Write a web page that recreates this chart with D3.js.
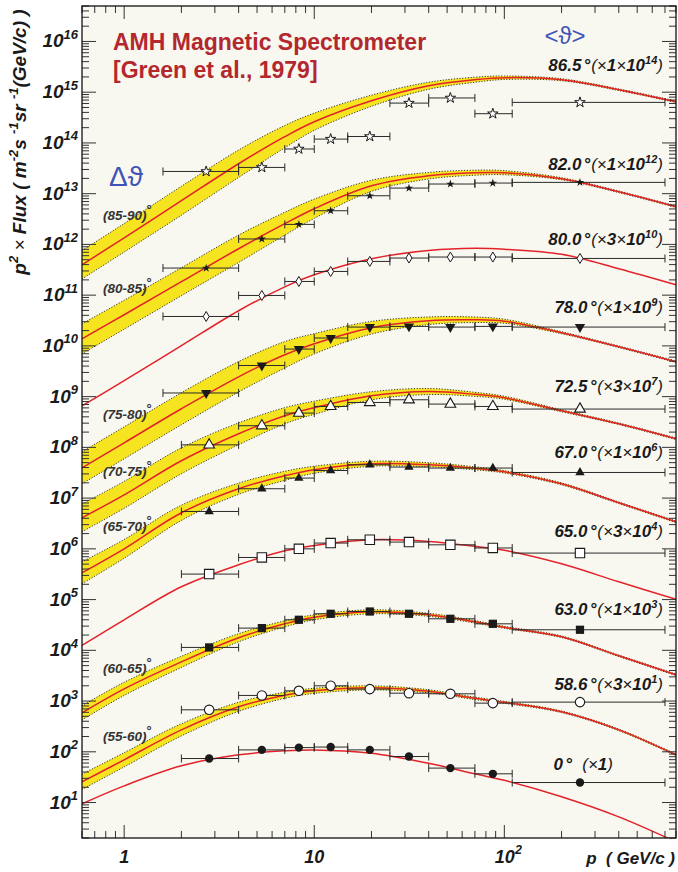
<!DOCTYPE html>
<html><head><meta charset="utf-8">
<script src="https://cdn.jsdelivr.net/npm/d3@7"></script>
<style>
html,body{margin:0;padding:0;background:#fff;}
svg{display:block;}
text{font-family:"Liberation Sans",Arial,Helvetica,sans-serif;}
</style></head><body>
<svg id="chart" width="678" height="872"></svg>
<script>
// ---------------- DATA ----------------
// momentum grid (GeV/c) on which the fitted curves are read
const fitP = [0.6, 1, 2, 4, 7, 10, 20, 40, 70, 100, 200, 400, 800];
// measurement bins (GeV/c)
const binLow  = [2, 4, 7, 10, 15, 25, 40, 70, 110];
const binHigh = [4, 7, 10, 15, 25, 40, 70, 110, 700];
const binMean = [2.8, 5.3, 8.3, 12.2, 19.6, 31.5, 52, 87, 250];
const wideFirstBinLow = 1.6, wideFirstBinMean = 2.7;

// zenith angle labels, scale factors, angle ranges
const angles      = ["86.5", "82.0", "80.0", "78.0", "72.5", "67.0", "65.0", "63.0", "58.6", "0"];
const factorMant  = ["1", "1", "3", "1", "3", "1", "3", "1", "3", null];
const factorExp   = ["14", "12", "10", "9", "7", "6", "4", "3", "1", null];
const rangeLabels = ["(85-90)", "(80-85)", null, "(75-80)", "(70-75)", "(65-70)", null, "(60-65)", "(55-60)", null];

// measured p^2*Flux (already multiplied by the scale factor)
const pts865 = [2.74e13, 3.29e13, 7.6e13, 1.19e14, 1.34e14, 6.1e14, 7.7e14, 3.77e14, 6.3e14];
const pts820 = [3.42e11, 1.28e12, 2.48e12, 4.61e12, 9.1e12, 1.29e13, 1.55e13, 1.62e13, 1.67e13];
const pts800 = [3.80e10, 9.86e10, 1.86e11, 2.93e11, 4.62e11, 5.39e11, 5.64e11, 5.64e11, 5.29e11];
const pts780 = [1.18e9, 4.11e9, 8.66e9, 1.43e10, 2.35e10, 2.42e10, 2.35e10, 2.42e10, 2.35e10];
const pts725 = [1.12e8, 2.67e8, 4.74e8, 6.40e8, 7.67e8, 8.67e8, 7.13e8, 6.40e8, 5.69e8];
const pts670 = [5.45e6, 1.53e7, 2.48e7, 3.50e7, 4.54e7, 4.09e7, 3.91e7, 3.91e7, 3.20e7];
const pts650 = [3.18e5, 6.76e5, 1.00e6, 1.30e6, 1.51e6, 1.36e6, 1.20e6, 1.04e6, 8.25e5];
const pts630 = [1.14e4, 2.74e4, 4.00e4, 5.25e4, 5.82e4, 5.25e4, 4.18e4, 3.33e4, 2.54e4];
const pts586 = [672, 1.29e3, 1.59e3, 2.00e3, 1.72e3, 1.43e3, 1.39e3, 910, 953];
const pts000 = [73.7, 109, 121, 124, 109, 80.7, 47.7, 36.8, 24.8];

// calculated curves on fitP grid
const fit865 = [3.97e11, 1.35e12, 7.26e12, 3.89e13, 1.33e14, 2.62e14, 6.79e14, 1.34e15, 1.76e15, 1.93e15, 1.76e15, 1.12e15, 6.49e14];
const fit820 = [1.38e10, 4.11e10, 1.84e11, 8.22e11, 2.56e12, 5.05e12, 1.43e13, 2.26e13, 2.59e13, 2.59e13, 1.97e13, 1.09e13, 5.53e12];
const fit800 = [6.61e8, 2.06e9, 1.01e10, 4.93e10, 1.46e11, 2.52e11, 5.22e11, 7.61e11, 8.41e11, 8.04e11, 6.40e11, 3.32e11, 1.60e11];
const fit780 = [3.96e7, 1.23e8, 5.77e8, 2.46e9, 6.68e9, 1.10e10, 2.28e10, 3.13e10, 3.27e10, 3.06e10, 1.82e10, 9.61e9, 4.87e9];
const fit725 = [4.09e6, 1.16e7, 5.44e7, 1.85e8, 4.20e8, 6.04e8, 1.04e9, 1.26e9, 1.11e9, 9.50e8, 5.26e8, 2.92e8, 1.48e8];
const fit670 = [3.37e5, 1.00e6, 5.14e6, 1.53e7, 2.75e7, 3.62e7, 4.75e7, 4.54e7, 3.87e7, 3.30e7, 1.91e7, 8.09e6, 3.41e6];
const fit650 = [1.25e4, 4.00e4, 1.79e5, 4.85e5, 9.16e5, 1.17e6, 1.51e6, 1.40e6, 1.12e6, 9.37e5, 5.07e5, 2.24e5, 1.01e5];
const fit630 = [586, 1.74e3, 5.93e3, 1.77e4, 3.33e4, 4.48e4, 5.74e4, 5.01e4, 3.65e4, 2.84e4, 1.85e4, 7.80e3, 3.29e3];
const fit586 = [25.6, 69.5, 271, 771, 1.30e3, 1.59e3, 1.82e3, 1.56e3, 1.13e3, 944, 614, 271, 87.1];
const fit000 = [9.43, 21.3, 52.9, 87.1, 104.5, 109, 93.3, 59.3, 36.8, 27.4, 13.0, 5.22, 1.68];

// half-width of the angular-range band, in decades, on fitP grid
const band865 = [0.28, 0.28, 0.285, 0.27, 0.22, 0.17, 0.11, 0.07, 0.05, 0.035, 0.02, 0.016, 0.016];
const band820 = [0.295, 0.285, 0.275, 0.27, 0.225, 0.19, 0.11, 0.065, 0.05, 0.04, 0.02, 0.016, 0.016];
const band780 = [0.315, 0.315, 0.315, 0.3, 0.26, 0.2, 0.125, 0.075, 0.055, 0.04, 0.02, 0.016, 0.016];
const band725 = [0.275, 0.265, 0.255, 0.215, 0.16, 0.13, 0.08, 0.06, 0.04, 0.03, 0.02, 0.016, 0.016];
const band670 = [0.215, 0.185, 0.15, 0.11, 0.09, 0.07, 0.05, 0.04, 0.03, 0.024, 0.02, 0.016, 0.016];
const band630 = [0.14, 0.13, 0.11, 0.08, 0.06, 0.05, 0.04, 0.03, 0.024, 0.02, 0.016, 0.016, 0.016];
const band586 = [0.15, 0.14, 0.12, 0.09, 0.06, 0.05, 0.04, 0.03, 0.024, 0.02, 0.016, 0.016, 0.016];

const xTickLabels = ["1", "10", "10^2"];

// ---------------- CHART ----------------
const pts  = [pts865, pts820, pts800, pts780, pts725, pts670, pts650, pts630, pts586, pts000];
const fits = [fit865, fit820, fit800, fit780, fit725, fit670, fit650, fit630, fit586, fit000];
const bands = [band865, band820, null, band780, band725, band670, null, band630, band586, null];
const wideFirst = [true, true, true, true, false, false, false, false, false, false];
const markers = ["starOpen","starFilled","diamondOpen","triDownFilled","triUpOpen","triUpFilled","squareOpen","squareFilled","circleOpen","circleFilled"];
const labelY = [70.7, 170, 245, 313.3, 391.7, 458.3, 536.7, 615, 690, 770];
const rangeY = [220, 292.7, null, 419.3, 476, 531, null, 672.7, 741, null];

const W = 678, H = 872;
const M = {l: 82, r: 676, t: 6, b: 838};
const svg = d3.select("#chart");
const x = d3.scaleLog().domain([0.6, 800]).range([M.l, M.r]);
const y = d3.scaleLog().domain([2, 5e16]).range([M.b, M.t]);

const BG = "#f8f7f0", RED = "#e3222a", YEL = "#f6e421", INK = "#1a1a1a";

svg.append("rect").attr("width", W).attr("height", H).attr("fill", "#fff");
svg.append("rect").attr("x", M.l).attr("y", M.t).attr("width", M.r - M.l).attr("height", M.b - M.t).attr("fill", BG);
svg.append("defs").append("clipPath").attr("id", "clip")
  .append("rect").attr("x", M.l).attr("y", M.t).attr("width", M.r - M.l).attr("height", M.b - M.t);

const gPlot = svg.append("g").attr("clip-path", "url(#clip)");
const curveType = d3.curveCatmullRom.alpha(0.5);

// bands and curves
fits.forEach((f, si) => {
  const rows = fitP.map((p, i) => ({p, v: f[i], w: bands[si] ? bands[si][i] : 0}));
  if (bands[si]) {
    const area = d3.area().x(d => x(d.p))
      .y0(d => y(d.v / Math.pow(10, d.w))).y1(d => y(d.v * Math.pow(10, d.w))).curve(curveType);
    gPlot.append("path").datum(rows).attr("d", area).attr("fill", YEL);
    const up = d3.line().x(d => x(d.p)).y(d => y(d.v * Math.pow(10, d.w))).curve(curveType);
    const dn = d3.line().x(d => x(d.p)).y(d => y(d.v / Math.pow(10, d.w))).curve(curveType);
    [up, dn].forEach(g => gPlot.append("path").datum(rows).attr("d", g)
      .attr("fill", "none").attr("stroke", "#222").attr("stroke-width", 0.9).attr("stroke-dasharray", "1.2,1.6"));
  }
  const line = d3.line().x(d => x(d.p)).y(d => y(d.v)).curve(curveType);
  gPlot.append("path").datum(rows).attr("d", line).attr("fill", "none").attr("stroke", RED).attr("stroke-width", 1.5);
});

// error bars + markers
const sym = (type, size) => d3.symbol(type, size)();
function marker(g, kind, cx, cy) {
  let d, fill = INK, stroke = "none", rot = 0, sw = 1;
  switch (kind) {
    case "starOpen": d = sym(d3.symbolStar, 34); fill = "#fff"; stroke = INK; sw = 1; break;
    case "starFilled": d = sym(d3.symbolStar, 22); break;
    case "diamondOpen": d = "M0,-5L3,0L0,5L-3,0Z"; fill = "#fff"; stroke = INK; break;
    case "triDownFilled": d = sym(d3.symbolTriangle, 46); rot = 180; break;
    case "triUpOpen": d = sym(d3.symbolTriangle, 50); fill = "#fff"; stroke = INK; sw = 1.1; break;
    case "triUpFilled": d = sym(d3.symbolTriangle, 38); break;
    case "squareOpen": d = sym(d3.symbolSquare, 88); fill = "#fff"; stroke = INK; sw = 1.1; break;
    case "squareFilled": d = sym(d3.symbolSquare, 68); break;
    case "circleOpen": d = sym(d3.symbolCircle, 70); fill = "#fff"; stroke = INK; sw = 1.1; break;
    case "circleFilled": d = sym(d3.symbolCircle, 55); break;
  }
  g.append("path").attr("d", d).attr("transform", `translate(${cx},${cy}) rotate(${rot})`)
    .attr("fill", fill).attr("stroke", stroke).attr("stroke-width", sw);
}
const gPts = svg.append("g").attr("clip-path", "url(#clip)");
pts.forEach((arr, si) => {
  arr.forEach((v, i) => {
    const lo = (i === 0 && wideFirst[si]) ? wideFirstBinLow : binLow[i];
    const hi = binHigh[i];
    const yy = y(v);
    gPts.append("line").attr("x1", x(lo)).attr("x2", x(hi)).attr("y1", yy).attr("y2", yy)
      .attr("stroke", "#2a2a2a").attr("stroke-width", 1);
    [lo, hi].forEach(e => gPts.append("line").attr("x1", x(e)).attr("x2", x(e)).attr("y1", yy - 4).attr("y2", yy + 4)
      .attr("stroke", "#2a2a2a").attr("stroke-width", 1));
  });
});
pts.forEach((arr, si) => {
  arr.forEach((v, i) => {
    const pm = (i === 0 && wideFirst[si]) ? wideFirstBinMean : binMean[i];
    marker(gPts, markers[si], x(pm), y(v));
  });
});

// frame and ticks
const gAx = svg.append("g");
const isMajor = v => Math.abs(Math.log10(v) - Math.round(Math.log10(v))) < 1e-6;
y.ticks(40).forEach(v => {
  const yy = y(v), L = isMajor(v) ? 14 : 7;
  gAx.append("line").attr("x1", M.l).attr("x2", M.l + L).attr("y1", yy).attr("y2", yy).attr("stroke", "#333").attr("stroke-width", 1);
  gAx.append("line").attr("x1", M.r).attr("x2", M.r - L).attr("y1", yy).attr("y2", yy).attr("stroke", "#333").attr("stroke-width", 1);
});
x.ticks(40).forEach(v => {
  const xx = x(v), L = isMajor(v) ? 13 : 7;
  gAx.append("line").attr("x1", xx).attr("x2", xx).attr("y1", M.b).attr("y2", M.b - L).attr("stroke", "#333").attr("stroke-width", 1);
  gAx.append("line").attr("x1", xx).attr("x2", xx).attr("y1", M.t).attr("y2", M.t + L).attr("stroke", "#333").attr("stroke-width", 1);
});
gAx.append("rect").attr("x", M.l).attr("y", M.t).attr("width", M.r - M.l).attr("height", M.b - M.t)
  .attr("fill", "none").attr("stroke", "#111").attr("stroke-width", 1.3);

// y tick labels
for (let k = 1; k <= 16; k++) {
  const t = svg.append("text").attr("x", 78).attr("y", y(Math.pow(10, k)) + 6).attr("text-anchor", "end")
    .attr("font-size", 19).attr("font-weight", "bold").attr("font-style", "italic").attr("fill", INK);
  t.append("tspan").text("10");
  t.append("tspan").attr("font-size", 13).attr("dy", -8.5).text(String(k));
}
// x tick labels
[1, 10, 100].forEach((v, i) => {
  const lab = xTickLabels[i];
  const t = svg.append("text").attr("x", x(v) + (lab.includes("^") ? 4 : 0)).attr("y", 863).attr("text-anchor", "middle")
    .attr("font-size", 18).attr("font-weight", "bold").attr("font-style", "italic").attr("fill", INK);
  if (lab.includes("^")) {
    const [b, e] = lab.split("^");
    t.append("tspan").text(b);
    t.append("tspan").attr("font-size", 12.5).attr("dy", -9).text(e);
  } else t.text(lab);
});
// x axis title
svg.append("text").attr("x", 675).attr("y", 864).attr("text-anchor", "end")
  .attr("font-size", 17).attr("font-weight", "bold").attr("font-style", "italic").attr("fill", INK)
  .attr("xml:space", "preserve").text("p  ( GeV/c )");

// y axis title
{
  const t = svg.append("text").attr("transform", "translate(26,142) rotate(-90)").attr("text-anchor", "middle")
    .attr("font-size", 19).attr("font-weight", "bold").attr("font-style", "italic").attr("fill", INK)
    .attr("xml:space", "preserve");
  const parts = [["p", 0], ["2", -8], [" \u00d7 ", 8, "normal"], ["Flux ( m", 0], ["-2", -8], ["s ", 8], ["-1", -8], ["sr ", 8], ["-1", -8], ["(GeV/c) )", 8]];
  parts.forEach(([s, dy, w]) => {
    const sp = t.append("tspan").text(s);
    if (dy) sp.attr("dy", dy);
    if (dy < 0) sp.attr("font-size", 13);
    if (w) sp.attr("font-weight", w);
  });
}

// title
svg.append("text").attr("x", 113).attr("y", 50).attr("font-size", 23).attr("font-weight", "bold")
  .attr("fill", "#b3282e").text("AMH Magnetic Spectrometer");
svg.append("text").attr("x", 113).attr("y", 78).attr("font-size", 23).attr("font-weight", "bold")
  .attr("fill", "#b3282e").text("[Green et al., 1979]");

// theta labels
svg.append("text").attr("x", 109).attr("y", 186).attr("font-size", 28).attr("font-family", "'DejaVu Serif', 'Liberation Serif', serif")
  .attr("fill", "#3f55b5").text("\u0394\u03d1");
svg.append("text").attr("x", 565).attr("y", 44).attr("text-anchor", "middle").attr("font-size", 24)
  .attr("font-family", "'DejaVu Serif', 'Liberation Serif', serif").attr("fill", "#3f55b5").text("<\u03d1>");

// series labels (right)
angles.forEach((a, i) => {
  const t = svg.append("text").attr("x", i === 9 ? 613 : 663).attr("y", labelY[i]).attr("text-anchor", "end")
    .attr("font-size", 17).attr("font-weight", "bold").attr("font-style", "italic").attr("fill", INK)
    .attr("xml:space", "preserve");
  t.append("tspan").text(a);
  t.append("tspan").attr("font-style", "normal").attr("dx", 3).text("\u00b0");
  if (factorMant[i]) {
    t.append("tspan").attr("font-weight", "normal").text("(\u00d7");
    t.append("tspan").text(factorMant[i]);
    t.append("tspan").attr("font-weight", "normal").text("\u00d7");
    t.append("tspan").text("10");
    t.append("tspan").attr("font-size", 11).attr("dy", -7).text(factorExp[i]);
    t.append("tspan").attr("font-weight", "normal").attr("dy", 7).text(")");
  } else {
    t.append("tspan").attr("font-weight", "normal").text("  (\u00d7");
    t.append("tspan").text("1");
    t.append("tspan").attr("font-weight", "normal").text(")");
  }
});

// angular range labels (left)
rangeLabels.forEach((r, i) => {
  if (!r) return;
  const t = svg.append("text").attr("x", 103).attr("y", rangeY[i]).attr("font-size", 13.5)
    .attr("font-weight", "bold").attr("font-style", "italic").attr("fill", "#333");
  t.append("tspan").text(r);
  t.append("tspan").attr("dy", -6).attr("font-size", 13).attr("font-style", "normal").text("\u00b0");
});
</script>
</body></html>
